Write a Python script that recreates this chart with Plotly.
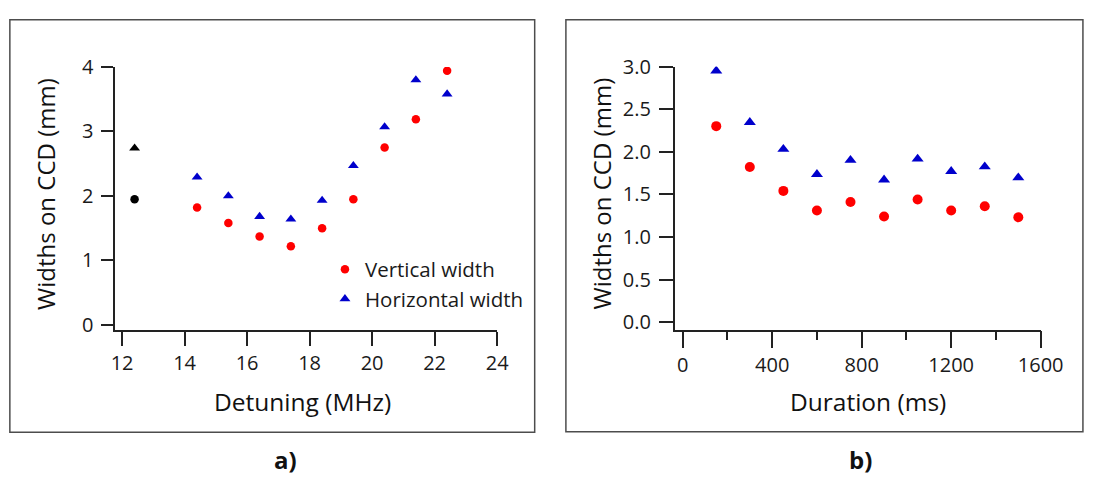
import plotly.graph_objects as go

W, H = 1103, 486

# ---- Panel a data ----
det_x = [14.4, 15.4, 16.4, 17.4, 18.4, 19.4, 20.4, 21.4, 22.4]
det_vert = [1.82, 1.58, 1.37, 1.22, 1.50, 1.95, 2.75, 3.19, 3.94]
det_horiz = [2.29, 2.00, 1.68, 1.64, 1.93, 2.47, 3.07, 3.80, 3.58]
ref_x = [12.4]
ref_vert = [1.95]
ref_horiz = [2.74]

# ---- Panel b data ----
dur_x = [150, 300, 450, 600, 750, 900, 1050, 1200, 1350, 1500]
dur_vert = [2.30, 1.82, 1.54, 1.31, 1.41, 1.24, 1.44, 1.31, 1.36, 1.23]
dur_horiz = [2.95, 2.345, 2.03, 1.735, 1.90, 1.67, 1.915, 1.77, 1.825, 1.695]

RED = "#FF0000"
BLUE = "#0000CC"
AX = "#222222"
FONT = "Open Sans"


def px(x):
    return x / W


def py(y):
    return 1 - y / H


fig = go.Figure()

fig.add_trace(go.Scatter(x=det_x, y=det_vert, mode="markers", name="Vertical width",
                         marker=dict(symbol="circle", size=8.5, color=RED),
                         xaxis="x", yaxis="y"))
fig.add_trace(go.Scatter(x=det_x, y=det_horiz, mode="markers", name="Horizontal width",
                         marker=dict(symbol="triangle-up", size=9.5, color=BLUE),
                         xaxis="x", yaxis="y"))
fig.add_trace(go.Scatter(x=ref_x, y=ref_vert, mode="markers", showlegend=False,
                         marker=dict(symbol="circle", size=8.5, color="black"),
                         xaxis="x", yaxis="y"))
fig.add_trace(go.Scatter(x=ref_x, y=ref_horiz, mode="markers", showlegend=False,
                         marker=dict(symbol="triangle-up", size=9.5, color="black"),
                         xaxis="x", yaxis="y"))
fig.add_trace(go.Scatter(x=dur_x, y=dur_vert, mode="markers", showlegend=False,
                         marker=dict(symbol="circle", size=10, color=RED),
                         xaxis="x2", yaxis="y2"))
fig.add_trace(go.Scatter(x=dur_x, y=dur_horiz, mode="markers", showlegend=False,
                         marker=dict(symbol="triangle-up", size=10.5, color=BLUE),
                         xaxis="x2", yaxis="y2"))

common = dict(showgrid=False, zeroline=False, showline=True, linecolor=AX, linewidth=1.5,
              ticks="outside", tickcolor=AX, tickwidth=1.5,
              tickfont=dict(family=FONT, size=20, color="#1a1a1a"))

fig.update_layout(
    width=W, height=H,
    margin=dict(l=0, r=0, t=0, b=0),
    paper_bgcolor="white", plot_bgcolor="white",
    font=dict(family=FONT, color="#1a1a1a"),
    xaxis=dict(domain=[px(114), px(505.5)], range=[11.78, 24], tickvals=[12, 14, 16, 18, 20, 22, 24],
               ticklen=14, anchor="y", **common),
    yaxis=dict(domain=[py(331), py(55.5)], range=[-0.08, 4.0], tickvals=[0, 1, 2, 3, 4],
               ticklen=12, anchor="x", ticklabelstandoff=4, **common),
    xaxis2=dict(domain=[px(687.5), px(1062.7)], range=[-35.8, 1600],
                tickvals=[0, 400, 800, 1200, 1600], ticklen=17, anchor="y2",
                minor=dict(tickvals=[200, 600, 1000, 1400], ticks="outside", ticklen=9,
                           tickcolor=AX, tickwidth=1.5),
                **common),
    yaxis2=dict(domain=[py(330.5), py(55)], range=[-0.087, 3.0],
                tickvals=[0, 0.5, 1.0, 1.5, 2.0, 2.5, 3.0], tickformat=".1f",
                ticklen=14, anchor="x2", ticklabelstandoff=4, **common),
    legend=dict(x=px(329), y=py(246.5), xanchor="left", yanchor="top",
                bgcolor="rgba(0,0,0,0)", font=dict(family=FONT, size=20.5, color="#1a1a1a"),
                itemwidth=30, tracegroupgap=0),
    showlegend=True,
)

fig.add_shape(type="rect", xref="paper", yref="paper",
              x0=px(6), x1=px(544), y0=py(438), y1=py(6),
              line=dict(color="#4d4d4d", width=1.5), fillcolor="rgba(0,0,0,0)", layer="below")
fig.add_shape(type="rect", xref="paper", yref="paper",
              x0=px(576), x1=px(1106), y0=py(437.5), y1=py(6),
              line=dict(color="#4d4d4d", width=1.5), fillcolor="rgba(0,0,0,0)", layer="below")

ann = [
    dict(text="Widths on CCD (mm)", x=px(42.5), y=py(188), textangle=-90, size=24),
    dict(text="Detuning (MHz)", x=px(305.5), y=py(405.5), textangle=0, size=24.5),
    dict(text="Widths on CCD (mm)", x=px(612), y=py(188), textangle=-90, size=24),
    dict(text="Duration (ms)", x=px(886), y=py(405.5), textangle=0, size=24.5),
    dict(text="<b>a)</b>", x=px(288.5), y=py(466.5), textangle=0, size=24),
    dict(text="<b>b)</b>", x=px(877.5), y=py(466.5), textangle=0, size=24),
]
for a in ann:
    fig.add_annotation(text=a["text"], x=a["x"], y=a["y"], xref="paper", yref="paper",
                       xanchor="center", yanchor="middle", showarrow=False,
                       textangle=a["textangle"],
                       font=dict(family=FONT, size=a["size"], color="#111111"))

fig.write_html("out.html")
